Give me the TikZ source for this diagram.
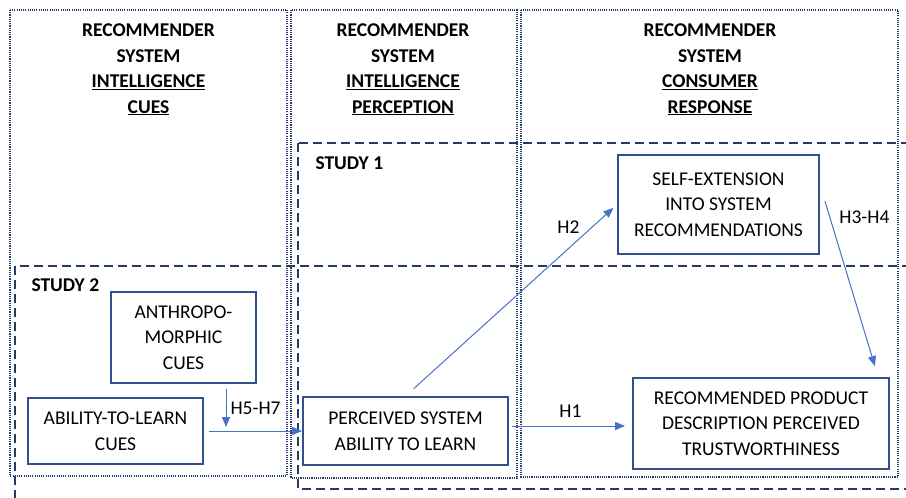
\documentclass[tikz,border=0pt]{standalone}
\usepackage{fontspec}
\setmainfont{Carlito}
\usetikzlibrary{arrows.meta, calc, positioning}
\definecolor{boxblue}{RGB}{47,82,143}
\definecolor{arrowblue}{RGB}{68,114,196}
\definecolor{framenavy}{RGB}{36,58,104}
\newcommand{\bodyfont}{\fontsize{19.5}{25.5}\selectfont}

\begin{document}
\begin{tikzpicture}[x=1pt, y=-1pt, >={Triangle[length=10pt,width=8pt]},
    construct/.style={draw=boxblue, line width=1.8pt, align=center, inner sep=0pt, font=\bodyfont},
    hyp/.style={->, arrowblue, line width=1pt},
    hlabel/.style={font=\bodyfont, text=black, inner sep=2pt},
    column/.style={draw=framenavy, line width=1.6pt, dash pattern=on 1.1pt off 1.1pt},
    study/.style={draw=framenavy, line width=2pt, dash pattern=on 9pt off 5pt},
    heading/.style={align=center, font=\bodyfont\bfseries}]

    \useasboundingbox (0,0) rectangle (906,498);
    \clip (0,0) rectangle (906,498);

    % three columns
    \draw[column] (10,10) rectangle (287,476);
    \draw[column] (291,10) rectangle (517,478);
    \draw[column] (521,10) rectangle (898,477);

    % study frames
    \draw[study] (298,143) rectangle (930,489);
    \draw[study] (15,266) rectangle (930,520);

    \node[heading] (cues) at (148.5,69.5) {RECOMMENDER\\SYSTEM\\\underline{INTELLIGENCE}\\\underline{CUES}};
    \node[heading] (perception) at (403,69.5) {RECOMMENDER\\SYSTEM\\\underline{INTELLIGENCE}\\\underline{PERCEPTION}};
    \node[heading] (response) at (710,69.5) {RECOMMENDER\\SYSTEM\\\underline{CONSUMER}\\\underline{RESPONSE}};

    \node[heading, anchor=west] (study1) at (312,163) {STUDY 1};
    \node[heading, anchor=west] (study2) at (28,285) {STUDY 2};

    % constructs
    \node[construct, minimum width=145pt, minimum height=91pt] (anthro) at (183.5,337.5) {ANTHROPO-\\MORPHIC\\CUES};
    \node[construct, minimum width=175pt, minimum height=66pt] (abil) at (115.5,431) {ABILITY-TO-LEARN\\CUES};
    \node[construct, minimum width=205pt, minimum height=68pt] (perc) at (405.5,431) {PERCEIVED SYSTEM\\ABILITY TO LEARN};
    \node[construct, minimum width=201pt, minimum height=99pt] (self) at (718.5,204.5) {SELF-EXTENSION\\INTO SYSTEM\\RECOMMENDATIONS};
    \node[construct, minimum width=256pt, minimum height=91pt] (rec) at (761,423.5) {RECOMMENDED PRODUCT\\DESCRIPTION PERCEIVED\\TRUSTWORTHINESS};

    \coordinate (modpt) at (226,432);

    % hypotheses
    \draw[hyp, shorten <=5pt] (abil.east) -- (perc.west);
    \draw[hyp, shorten <=5pt, shorten >=5pt] (anthro.south -| modpt) -- node[hlabel, right=2pt] {H5-H7} (modpt);
    \draw[hyp, shorten <=3pt, shorten >=7pt] ([yshift=5pt]perc.east) -- node[hlabel, above=6pt] {H1} ([yshift=5pt]perc.east -| rec.west);
    \draw[hyp, shorten <=11pt, shorten >=5pt] (perc.north) -- node[hlabel, pos=0.77, above=13pt] {H2} (self.west);
    \draw[hyp] ([xshift=5pt,yshift=3.5pt]self.east) -- node[hlabel, pos=0.1, right=7pt] {H3-H4} ([xshift=-15pt,yshift=11pt]rec.north east);
\end{tikzpicture}
\end{document}
